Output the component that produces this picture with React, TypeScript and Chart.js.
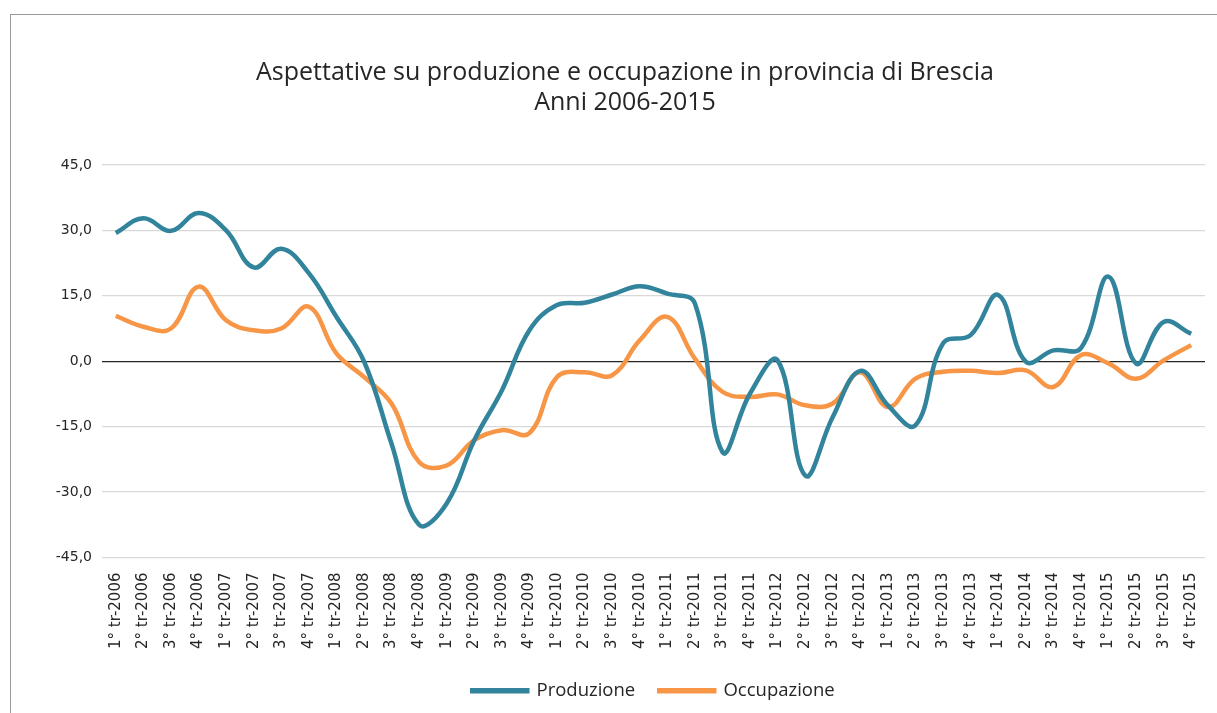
import { useEffect, useRef } from "react";
import { Chart, registerables } from "chart.js";

Chart.register(...registerables);

const years = [2006, 2007, 2008, 2009, 2010, 2011, 2012, 2013, 2014, 2015];
const quarters = ["1°", "2°", "3°", "4°"];
const categories: string[] = years.flatMap((y) => quarters.map((q) => `${q} tr-${y}`));

const produzione = [
  29.4, 32.8, 29.9, 34.0, 30.0, 21.5, 25.8, 20.2, 10.2, 0.0,
  -18.9, -37.5, -32.6, -18.1, -6.7, 7.1, 12.9, 13.4, 15.3, 17.2,
  15.5, 13.3, -20.8, -7.4, 0.2, -26.2, -12.8, -2.2, -10.1, -14.7,
  4.1, 6.0, 15.2, -0.1, 2.5, 3.0, 19.4, -0.5, 9.0, 6.3,
];

const occupazione = [
  10.4, 7.9, 7.5, 17.1, 9.4, 7.1, 7.5, 12.5, 1.8, -3.6,
  -9.7, -23.1, -23.9, -18.1, -15.8, -16.5, -3.6, -2.5, -3.2, 4.8,
  10.2, 0.6, -7.0, -8.2, -7.6, -10.1, -9.7, -2.5, -10.5, -4.0,
  -2.4, -2.2, -2.7, -2.1, -5.9, 1.4, -0.5, -4.0, 0.2, 3.7,
];

const titleLines = [
  "Aspettative su produzione e occupazione in provincia di Brescia",
  "Anni 2006-2015",
];

const yMin = -45;
const yMax = 45;
const yStep = 15;

const TITLE_FONT = "'Open Sans', Lato, sans-serif";
const AXIS_FONT = "'DejaVu Sans', 'Open Sans', sans-serif";

export default function App() {
  const canvasRef = useRef<HTMLCanvasElement>(null);

  useEffect(() => {
    document.body.style.margin = "0";
    const canvas = canvasRef.current;
    if (!canvas) return;
    const chart = new Chart(canvas, {
      type: "line",
      data: {
        labels: categories,
        datasets: [
          {
            label: "Produzione",
            data: produzione,
            borderColor: "#31849B",
            backgroundColor: "#31849B",
            borderWidth: 4.5,
            pointRadius: 0,
            tension: 0.4,
          },
          {
            label: "Occupazione",
            data: occupazione,
            borderColor: "#F79646",
            backgroundColor: "#F79646",
            borderWidth: 4.5,
            pointRadius: 0,
            tension: 0.4,
          },
        ],
      },
      options: {
        responsive: false,
        animation: false,
        layout: { padding: { left: 45, right: 12, top: 0, bottom: 3 } },
        plugins: {
          title: {
            display: true,
            text: titleLines,
            color: "#262626",
            font: { family: TITLE_FONT, size: 25, weight: "normal", lineHeight: 30 / 25 },
            padding: { top: 58, bottom: 47 },
          },
          legend: {
            position: "bottom",
            fullSize: false,
            labels: {
              boxWidth: 55,
              boxHeight: 1,
              color: "#262626",
              font: { family: TITLE_FONT, size: 18.5 },
              padding: 24,
            },
          },
          tooltip: { enabled: false },
        },
        scales: {
          x: {
            offset: true,
            grid: { display: false },
            border: { display: false },
            ticks: {
              minRotation: 90,
              maxRotation: 90,
              autoSkip: false,
              color: "#262626",
              font: { family: AXIS_FONT, size: 15 },
              padding: 7,
            },
            afterFit: (scale: any) => {
              scale.height = 100;
            },
          },
          y: {
            min: yMin,
            max: yMax,
            border: { display: false },
            grid: {
              drawTicks: false,
              color: (ctx: any) => (ctx.tick && ctx.tick.value === 0 ? "#262626" : "#d9d9d9"),
              lineWidth: (ctx: any) => (ctx.tick && ctx.tick.value === 0 ? 1.3 : 1.2),
            },
            ticks: {
              stepSize: yStep,
              color: "#262626",
              font: { family: AXIS_FONT, size: 14 },
              padding: 10,
              callback: (v: any) => Number(v).toFixed(1).replace(".", ","),
            },
            afterFit: (scale: any) => {
              scale.width = 57;
            },
          },
        },
      },
    });
    return () => chart.destroy();
  }, []);

  return (
    <div style={{ position: "relative", width: 1217, height: 713, background: "#fff", overflow: "hidden" }}>
      <div
        style={{
          position: "absolute",
          left: 10,
          top: 14,
          width: 1220,
          height: 710,
          borderLeft: "1px solid #9a9a9a",
          borderTop: "1px solid #9a9a9a",
        }}
      />
      <canvas ref={canvasRef} width={1217} height={713} style={{ position: "absolute", left: 0, top: 0 }} />
    </div>
  );
}
